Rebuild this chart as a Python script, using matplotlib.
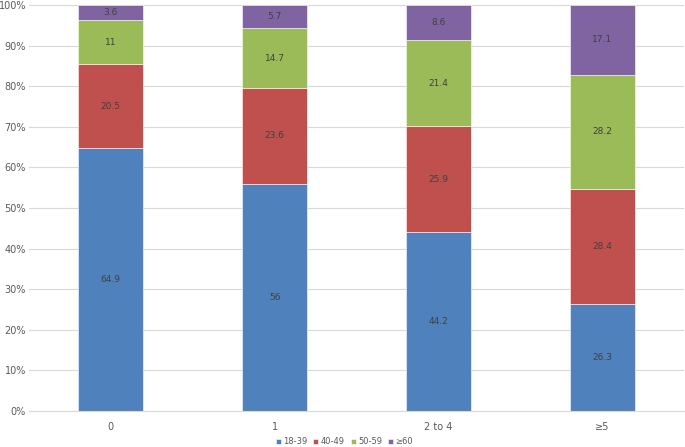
import numpy as np
import matplotlib
matplotlib.use('Agg')

import matplotlib.pyplot as plt
from matplotlib.ticker import FuncFormatter

categories = ['0', '1', '2 to 4', '≥5']
age_groups = ['18-39', '40-49', '50-59', '≥60']
v_18_39 = [64.9, 56, 44.2, 26.3]
v_40_49 = [20.5, 23.6, 25.9, 28.4]
v_50_59 = [11, 14.7, 21.4, 28.2]
v_60 = [3.6, 5.7, 8.6, 17.1]
colors = ['#4F81BD', '#C0504D', '#9BBB59', '#8064A2']

series = [v_18_39, v_40_49, v_50_59, v_60]

fig = plt.figure(figsize=(6.85, 4.47), dpi=100)
ax = fig.add_axes([0.042, 0.0805, 0.957, 0.908])

x = np.arange(len(categories))
bottom = np.zeros(len(categories))
for vals, name, c in zip(series, age_groups, colors):
    vals = np.array(vals, dtype=float)
    ax.bar(x, vals, 0.4, bottom=bottom, color=c, label=name,
           edgecolor='white', linewidth=0.4, zorder=2)
    for xi, b, v in zip(x, bottom, vals):
        ax.text(xi, b + v / 2, '%g' % v, ha='center', va='center',
                fontsize=6.5, color='#404040', zorder=3)
    bottom += vals

ax.set_xlim(-0.5, 3.5)
ax.set_ylim(0, 100)
ax.set_yticks(np.arange(0, 101, 10))
ax.yaxis.set_major_formatter(FuncFormatter(lambda v, p: '%d%%' % v))
ax.set_xticks(x)
ax.set_xticklabels(categories)
ax.grid(axis='y', color='#D9D9D9', linewidth=0.8, zorder=0)
for s in ['top', 'right', 'left']:
    ax.spines[s].set_visible(False)
ax.spines['bottom'].set_color('#D9D9D9')
ax.tick_params(axis='both', length=0, labelsize=7, labelcolor='#595959')
ax.tick_params(axis='y', pad=2)
ax.tick_params(axis='x', pad=8)

fig.legend(loc='center', bbox_to_anchor=(0.503, 0.012), ncol=4,
           frameon=False, fontsize=6, handlelength=0.6, handleheight=0.6,
           handletextpad=0.3, columnspacing=0.7, labelcolor='#595959',
           borderpad=0)

fig.savefig('out.png', dpi=100)
